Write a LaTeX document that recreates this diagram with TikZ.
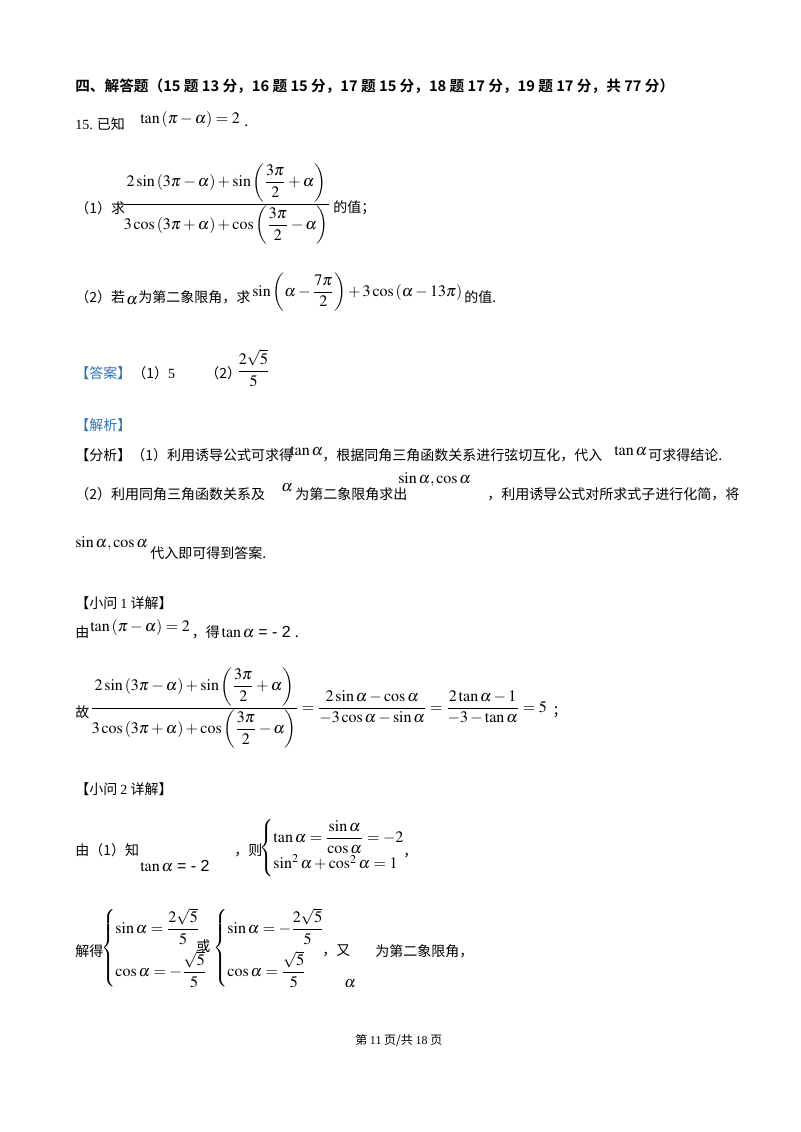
\documentclass[tikz,border=0pt]{standalone}
\usepackage{amsmath}
\usepackage{mathptmx}
\usepackage{fontspec}
\setmainfont{Liberation Serif}
\newfontfamily\zh{Noto Sans CJK SC}
\newfontfamily\zhb{Noto Sans CJK SC Bold}
\definecolor{ansblue}{RGB}{46,116,181}
\begin{document}
\begin{tikzpicture}[x=0.75pt,y=-0.75pt,
  t/.style={anchor=west,inner sep=0pt,font=\fontsize{10.5}{12}\selectfont\zh},
  m/.style={anchor=west,inner sep=0pt,font=\fontsize{12}{14}\selectfont}]
\useasboundingbox[fill=white] (0,0) rectangle (800,1132);
\node[t,font=\fontsize{11}{13}\selectfont\zhb] (h) at (75,86) {四、解答题（15 题 13 分，16 题 15 分，17 题 15 分，18 题 17 分，19 题 17 分，共 77 分）};
\node[t] (q15) at (75,124) {{\rmfamily 15.} 已知};
\node[m] (q15m) at (140,119) {$\tan\left(\pi-\alpha\right)=2$};
\node[t] (q15p) at ([xshift=3pt]q15m.east |- 0,126) {.};
\node[t] (q1) at (75,208) {（1）求};
\node[m] (q1m) at (122,204) {$\dfrac{2\sin\left(3\pi-\alpha\right)+\sin\left(\dfrac{3\pi}{2}+\alpha\right)}{3\cos\left(3\pi+\alpha\right)+\cos\left(\dfrac{3\pi}{2}-\alpha\right)}$};
\node[t] (q1e) at ([xshift=2pt]q1m.east |- 0,208) {的值；};
\node[t] (q2) at (75,297) {（2）若};
\node[m] (q2a) at (126,301) {$\alpha$};
\node[t] (q2b) at (138,297) {为第二象限角，求};
\node[m] (q2m) at (252,292) {$\sin\left(\alpha-\dfrac{7\pi}{2}\right)+3\cos\left(\alpha-13\pi\right)$};
\node[t] (q2e) at ([xshift=1pt]q2m.east |- 0,297) {的值.};
\node[t,text=ansblue] (ans) at (75,373) {【答案】};
\node[t] (a1) at (132,373) {（1）{\rmfamily 5}};
\node[t] (a2) at (205,373) {（2）};
\node[m] (a2m) at (237,368) {$\dfrac{2\sqrt5}{5}$};
\node[t,text=ansblue] (jx) at (75,425) {【解析】};
\node[t] (f1) at (75,455) {【分析】（1）利用诱导公式可求得};
\node[m] (f1a) at (290,451) {$\tan\alpha$};
\node[t] (f1b) at (322,455) {，根据同角三角函数关系进行弦切互化，代入};
\node[m] (f1c) at (614,451) {$\tan\alpha$};
\node[t] (f1d) at (648,455) {可求得结论.};
\node[t] (f2) at (75,494) {（2）利用同角三角函数关系及};
\node[m] (f2a) at (281,488) {$\alpha$};
\node[t] (f2b) at (295,494) {为第二象限角求出};
\node[m] (f2c) at (398,480) {$\sin\alpha,\cos\alpha$};
\node[t] (f2d) at (487,494) {，利用诱导公式对所求式子进行化简，将};
\node[m] (f3a) at (75,544) {$\sin\alpha,\cos\alpha$};
\node[t] (f3b) at (150,553) {代入即可得到答案.};
\node[t] (x1) at (75,603) {【小问 {\rmfamily 1} 详解】};
\node[t] (y1) at (75,632) {由};
\node[m] (y1a) at (90,627) {$\tan\left(\pi-\alpha\right)=2$};
\node[t] (y1b) at ([xshift=1pt]y1a.east |- 0,632) {，得};
\node[m] (y1c) at ([xshift=1pt]y1b.east |- 0,632) {$\tan\alpha$ {\fontspec{Liberation Sans}= - 2}\ .};
\node[t] (g) at (75,712) {故};
\node[m] (gm) at (90,708) {$\dfrac{2\sin\left(3\pi-\alpha\right)+\sin\left(\dfrac{3\pi}{2}+\alpha\right)}{3\cos\left(3\pi+\alpha\right)+\cos\left(\dfrac{3\pi}{2}-\alpha\right)}=\dfrac{2\sin\alpha-\cos\alpha}{-3\cos\alpha-\sin\alpha}=\dfrac{2\tan\alpha-1}{-3-\tan\alpha}=5$};
\node[t] (ge) at ([xshift=4pt]gm.east |- 0,712) {；};
\node[t] (x2) at (75,789) {【小问 {\rmfamily 2} 详解】};
\node[t] (z1) at (75,850) {由（1）知};
\node[m] (z1a) at (140,866) {$\tan\alpha$ {\fontspec{Liberation Sans}= - 2}};
\node[t] (z1b) at (234,850) {，则};
\node[m] (z1c) at (259,848) {$\begin{cases}\tan\alpha=\dfrac{\sin\alpha}{\cos\alpha}=-2\\[2pt] \sin^2\alpha+\cos^2\alpha=1\end{cases}$};
\node[t] (z1d) at (403,856) {，};
\node[t] (z2) at (75,951) {解得};
\node[m] (z2a) at (101,948) {$\begin{cases}\sin\alpha=\dfrac{2\sqrt5}{5}\\[8pt] \cos\alpha=-\dfrac{\sqrt5}{5}\end{cases}$};
\node[t] (z2b) at (196,946) {或};
\node[m] (z2c) at (213,948) {$\begin{cases}\sin\alpha=-\dfrac{2\sqrt5}{5}\\[8pt] \cos\alpha=\dfrac{\sqrt5}{5}\end{cases}$};
\node[t] (z2d) at (322,951) {，又};
\node[m] (z2e) at (344,984) {$\alpha$};
\node[t] (z2f) at (375,951) {为第二象限角，};
\node[t,font=\fontsize{9}{11}\selectfont\zh] (ft) at (355,1040) {第 {\rmfamily 11} 页/共 {\rmfamily 18} 页};
\end{tikzpicture}
\end{document}
